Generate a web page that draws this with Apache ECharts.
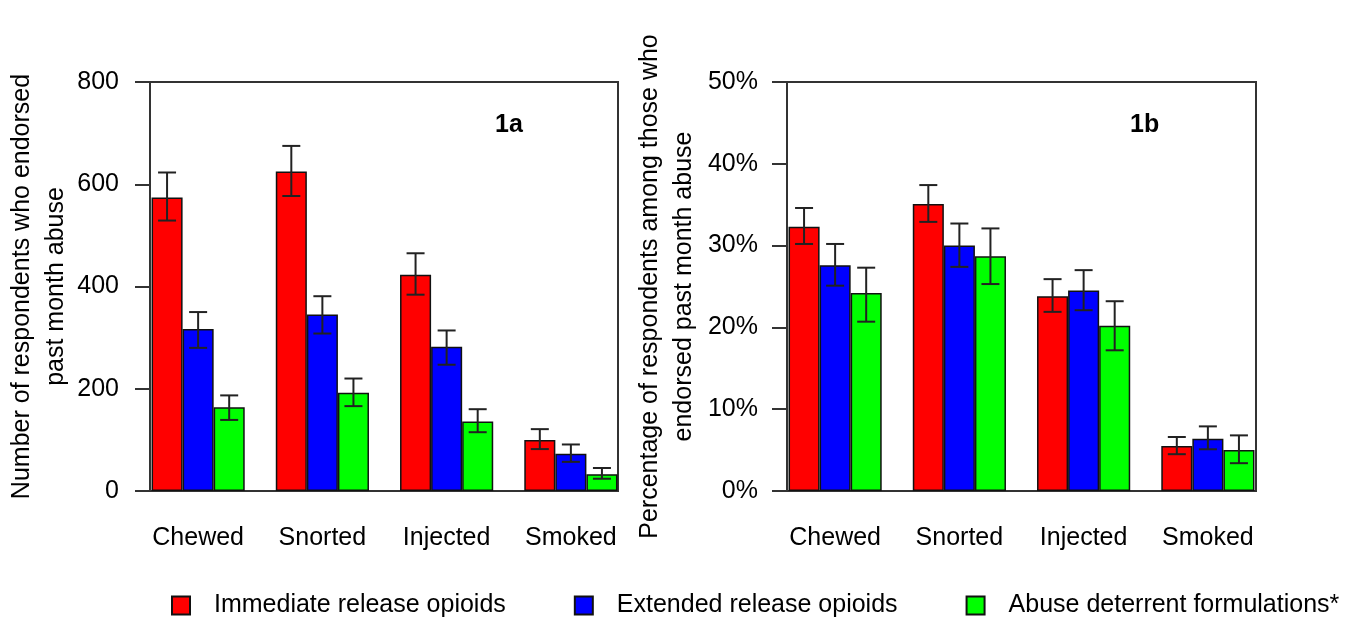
<!DOCTYPE html>
<html>
<head>
<meta charset="utf-8">
<script src="https://cdn.jsdelivr.net/npm/echarts@6.0.0/dist/echarts.min.js"></script>
<style>
  html, body { margin: 0; background: #fff; }
  #chart { width: 1353px; height: 623px; }
</style>
</head>
<body>
<div id="chart"></div>
<script>
// categories and legend names
const categories = ['Chewed', 'Snorted', 'Injected', 'Smoked'];
const seriesNames = ['Immediate release opioids', 'Extended release opioids', 'Abuse deterrent formulations*'];

// 1a: number of respondents (bar value, error low, error high)
const countIR = [574, 625, 423, 100];
const countIRLow = [529, 577, 384, 82];
const countIRHigh = [623, 675, 465, 121];
const countER = [317, 345, 282, 73];
const countERLow = [280, 308, 247, 57];
const countERHigh = [350, 381, 314, 91];
const countADF = [164, 192, 136, 33];
const countADFLow = [139, 166, 115, 24];
const countADFHigh = [187, 220, 160, 45];

// 1b: percentage of respondents
const pctIR = [32.3, 35.1, 23.8, 5.5];
const pctIRLow = [30.2, 32.9, 21.9, 4.5];
const pctIRHigh = [34.6, 37.4, 25.9, 6.6];
const pctER = [27.6, 30.0, 24.5, 6.4];
const pctERLow = [25.1, 27.4, 22.1, 5.1];
const pctERHigh = [30.2, 32.7, 27.0, 7.9];
const pctADF = [24.2, 28.7, 20.2, 5.0];
const pctADFLow = [20.7, 25.3, 17.2, 3.4];
const pctADFHigh = [27.3, 32.1, 23.2, 6.8];

const colors = ['#ff0000', '#0000ff', '#00ff00'];
const font = 'Liberation Sans, Arial, sans-serif';
const axisColor = '#333';
const textColor = '#000';

// error bars drawn on top of the grouped bars
function errorBars(params, api) {
  const cat = api.value(0);
  const k = api.value(1);
  const band = api.size([1, 0])[0];
  const x = api.coord([cat, 0])[0] + (k - 1) * band / 4;
  const top = api.coord([cat, api.value(3)])[1];
  const bot = api.coord([cat, api.value(2)])[1];
  const style = { stroke: '#222', lineWidth: 2 };
  return {
    type: 'group',
    children: [
      { type: 'line', shape: { x1: x, y1: top, x2: x, y2: bot }, style: style },
      { type: 'line', shape: { x1: x - 9, y1: top, x2: x + 9, y2: top }, style: style },
      { type: 'line', shape: { x1: x - 9, y1: bot, x2: x + 9, y2: bot }, style: style }
    ]
  };
}

function errData(lows, highs) {
  const out = [];
  lows.forEach((lo, k) => {
    lo.forEach((v, i) => out.push([i, k, v, highs[k][i]]));
  });
  return out;
}

function barSeries(axisIdx, values) {
  return values.map((vals, k) => ({
    name: seriesNames[k],
    type: 'bar',
    xAxisIndex: axisIdx,
    yAxisIndex: axisIdx,
    barGap: '0%',
    barCategoryGap: '25%',
    itemStyle: { color: colors[k], borderColor: '#111', borderWidth: 1.5 },
    data: vals
  }));
}

const chart = echarts.init(document.getElementById('chart'));

const valueLabel = { color: textColor, fontSize: 25, fontFamily: font };

chart.setOption({
  animation: false,
  title: [
    { text: '1a', left: 495, top: 113, padding: 0, textStyle: { fontSize: 25, fontWeight: 'bold', color: textColor, fontFamily: font } },
    { text: '1b', left: 1130, top: 113, padding: 0, textStyle: { fontSize: 25, fontWeight: 'bold', color: textColor, fontFamily: font } }
  ],
  legend: {
    data: seriesNames,
    left: 171,
    top: 593,
    width: 1250,
    padding: 0,
    icon: 'rect',
    itemWidth: 18,
    itemHeight: 18,
    itemGap: 68,
    textStyle: { color: textColor, fontSize: 25, fontFamily: font, padding: [0, 0, 0, 19] }
  },
  grid: [
    // frames (box + y axis)
    { left: 150, top: 82, width: 468, height: 409, show: true, borderColor: axisColor, borderWidth: 2 },
    { left: 787, top: 82, width: 469, height: 409, show: true, borderColor: axisColor, borderWidth: 2 },
    // bar areas (category bands)
    { left: 136, top: 82, width: 497, height: 409 },
    { left: 773, top: 82, width: 497, height: 409 }
  ],
  xAxis: [
    { gridIndex: 0, type: 'value', show: false },
    { gridIndex: 1, type: 'value', show: false },
    {
      gridIndex: 2, type: 'category', data: categories,
      axisLine: { show: false },
      axisTick: { alignWithLabel: true, length: 9, lineStyle: { color: axisColor, width: 2 } },
      axisLabel: Object.assign({ margin: 35 }, valueLabel)
    },
    {
      gridIndex: 3, type: 'category', data: categories,
      axisLine: { show: false },
      axisTick: { alignWithLabel: true, length: 9, lineStyle: { color: axisColor, width: 2 } },
      axisLabel: Object.assign({ margin: 35 }, valueLabel)
    }
  ],
  yAxis: [
    {
      gridIndex: 0, type: 'value', min: 0, max: 800, interval: 200,
      name: 'Number of respondents who endorsed\npast month abuse',
      nameLocation: 'middle', nameRotate: 90, nameGap: 65,
      nameTextStyle: { color: textColor, fontSize: 25, fontFamily: font, lineHeight: 34 },
      axisLine: { show: true, lineStyle: { color: axisColor, width: 2 } },
      axisTick: { length: 15, lineStyle: { color: axisColor, width: 2 } },
      splitLine: { show: false },
      axisLabel: Object.assign({ margin: 31, padding: [3, 0, 0, 0] }, valueLabel)
    },
    {
      gridIndex: 1, type: 'value', min: 0, max: 50, interval: 10,
      name: 'Percentage of respondents among those who\nendorsed past month abuse',
      nameLocation: 'middle', nameRotate: 90, nameGap: 86,
      nameTextStyle: { color: textColor, fontSize: 25, fontFamily: font, lineHeight: 34 },
      axisLine: { show: true, lineStyle: { color: axisColor, width: 2 } },
      axisTick: { length: 15, lineStyle: { color: axisColor, width: 2 } },
      splitLine: { show: false },
      axisLabel: Object.assign({ margin: 29, padding: [3, 0, 0, 0], formatter: '{value}%' }, valueLabel)
    },
    { gridIndex: 2, type: 'value', min: 0, max: 800, show: false, splitLine: { show: false } },
    { gridIndex: 3, type: 'value', min: 0, max: 50, show: false, splitLine: { show: false } }
  ],
  series: [
    ...barSeries(2, [countIR, countER, countADF]),
    ...barSeries(3, [pctIR, pctER, pctADF]),
    {
      type: 'custom', xAxisIndex: 2, yAxisIndex: 2, z: 5,
      renderItem: errorBars,
      encode: { x: 0, y: [2, 3] },
      data: errData([countIRLow, countERLow, countADFLow], [countIRHigh, countERHigh, countADFHigh])
    },
    {
      type: 'custom', xAxisIndex: 3, yAxisIndex: 3, z: 5,
      renderItem: errorBars,
      encode: { x: 0, y: [2, 3] },
      data: errData([pctIRLow, pctERLow, pctADFLow], [pctIRHigh, pctERHigh, pctADFHigh])
    }
  ]
});
</script>
</body>
</html>
